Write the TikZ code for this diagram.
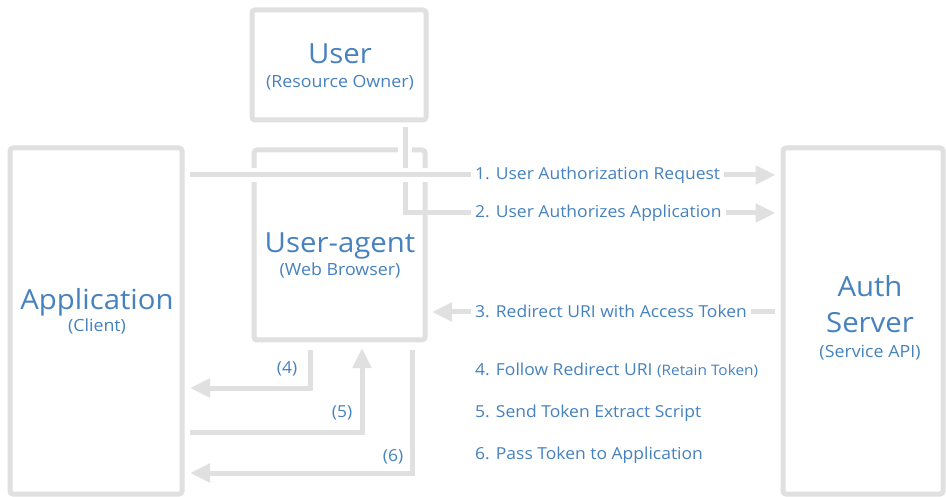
\documentclass[tikz,border=0pt]{standalone}
\usepackage{fontspec}
\setmainfont{Open Sans}[FakeStretch=1.06]
\usetikzlibrary{arrows.meta,calc}
\definecolor{linegray}{HTML}{E0E0E0}
\definecolor{txtblue}{HTML}{4682BE}
\tikzset{
  box/.style={draw=linegray, line width=5pt, rounded corners=3pt, fill=none, inner sep=0pt},
  conn/.style={draw=linegray, line width=5pt},
  arr/.style={conn, -{Triangle[length=20pt,width=18pt]}},
  halo/.style={draw=white, line width=14pt},
  big/.style={text=txtblue, font=\fontsize{27.7}{30}\selectfont, inner sep=0pt},
  small/.style={text=txtblue, font=\fontsize{16.8}{18}\selectfont, inner sep=0pt},
  lbl/.style={text=txtblue, font=\fontsize{16.5}{19}\selectfont, fill=white, inner sep=4pt, anchor=west},
  num/.style={text=txtblue, font=\fontsize{16.5}{19}\selectfont, inner sep=0pt},
}
\begin{document}
\begin{tikzpicture}[x=1pt, y=-1pt]
\useasboundingbox (0,0) rectangle (946,497);
\fill[white] (0,0) rectangle (946,497);
\clip (0,0) rectangle (946,497);

% boxes
\node[box, minimum width=174pt, minimum height=110pt] (user) at (339,65) {};
\node[box, minimum width=171pt, minimum height=190pt] (ua) at (339.5,245) {};
\node[box, minimum width=172pt, minimum height=346pt] (app) at (96,321) {};
\node[box, minimum width=160pt, minimum height=346pt] (auth) at (863,321) {};

% box texts
\node[big, anchor=base] (usert) at (340,64) {User};
\node[small, anchor=base] (users) at (340,88) {(Resource Owner)};
\node[big, anchor=base] (uat) at (340,253) {User-agent};
\node[small, anchor=base] (uas) at (340,276) {(Web Browser)};
\node[big, anchor=base] (appt) at (97,310) {Application};
\node[small, anchor=base] (apps) at (97,332) {(Client)};
\node[big, anchor=base] (autht) at (870,297) {Auth};
\node[big, anchor=base] (auths) at (870,333) {Server};
\node[small, anchor=base] (authc) at (870,357) {(Service API)};

% coordinates
\coordinate (p2s) at (405,127);
\coordinate (p2c) at (405,213);
\coordinate (p1s) at (190,175);
\coordinate (p3s) at (775,312);
\coordinate (p3e) at (432,312);
\coordinate (p4s) at (310,350);
\coordinate (p4c) at (310,388);
\coordinate (p4e) at (190,388);
\coordinate (p5s) at (190,432);
\coordinate (p5c) at (362,432);
\coordinate (p5e) at (362,348);
\coordinate (p6s) at (412,350);
\coordinate (p6c) at (412,473);
\coordinate (p6e) at (190,473);

% line 2 (with halo over user-agent top edge)
\path[halo] (405,138) -- (405,162);
\draw[arr, shorten >=5pt] (p2s) -- (p2c) -- (auth.west |- p2c);
% line 1 (with halo)
\path[halo] (236,175) -- (444,175);
\draw[arr, shorten >=5pt] (p1s) -- (auth.west |- p1s);
% line 3
\draw[arr] (p3s) -- (p3e);
% lines 4-6
\draw[arr] (p4s) -- (p4c) -- (p4e);
\draw[arr] (p5s) -- (p5c) -- (p5e);
\draw[arr] (p6s) -- (p6c) -- (p6e);

% labels
\node[lbl] (l1) at (471,175) {1. User Authorization Request};
\node[lbl] (l2) at (471,213) {2. User Authorizes Application};
\node[lbl] (l3) at (471,311) {3. Redirect URI with Access Token};
\node[lbl, fill=none] (l4) at (471,370) {4. Follow Redirect URI {\fontsize{14.5}{15}\selectfont(Retain Token)}};
\node[lbl, fill=none] (l5) at (471,413) {5. Send Token Extract Script};
\node[lbl, fill=none] (l6) at (471,455) {6. Pass Token to Application};

\node[num] (n4) at (287,369) {(4)};
\node[num] (n5) at (342,413) {(5)};
\node[num] (n6) at (393,457) {(6)};
\end{tikzpicture}
\end{document}
